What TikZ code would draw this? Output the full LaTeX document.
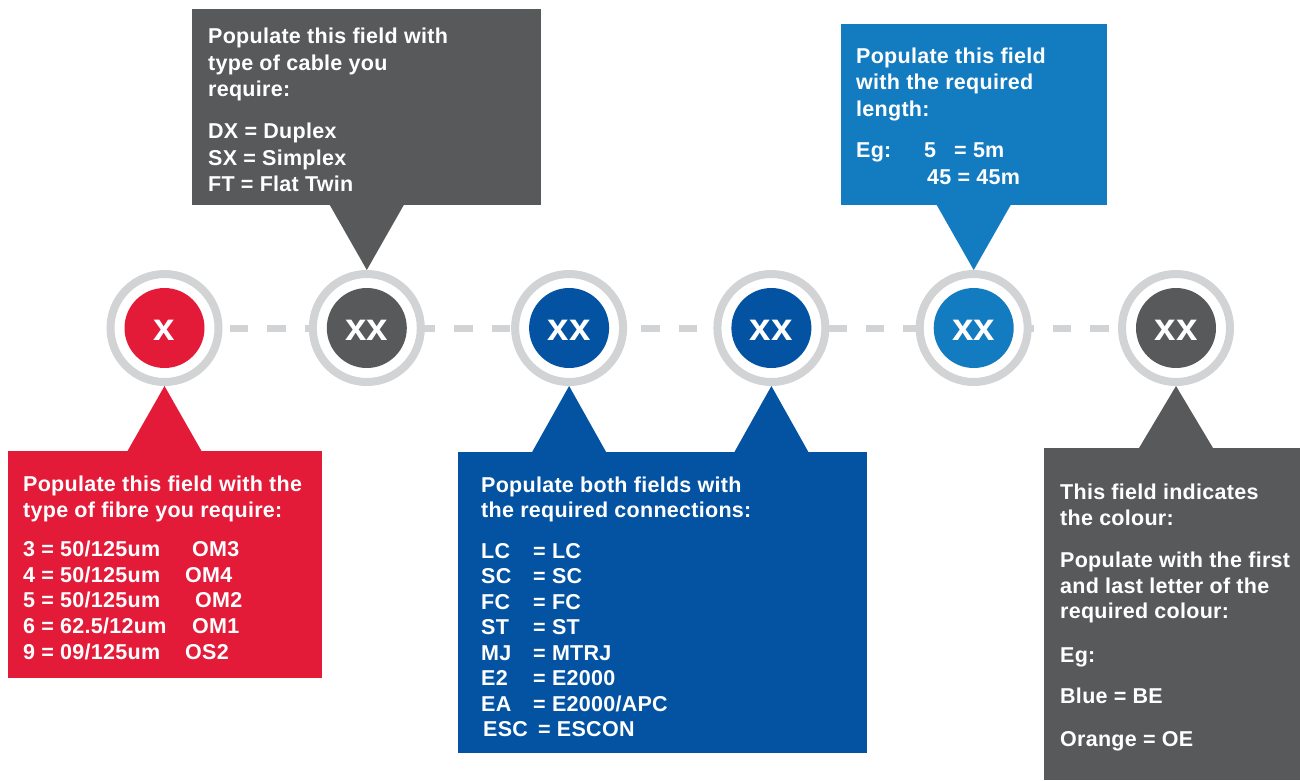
\documentclass[tikz,border=0pt]{standalone}
\usepackage{fontspec}
\setmainfont{Liberation Sans}
\newfontfamily\boxfont[LetterSpace=1.3]{Liberation Sans}
\usetikzlibrary{calc,backgrounds}
\definecolor{fred}{HTML}{E41A39}
\definecolor{fgray}{HTML}{58595B}
\definecolor{fblue}{HTML}{0453A3}
\definecolor{flight}{HTML}{137BC0}
\definecolor{ringgray}{HTML}{D1D3D4}
\begin{document}
\begin{tikzpicture}[x=1pt,y=-1pt,
  ring/.style={circle, draw=ringgray, line width=8pt, fill=white, minimum size=108pt, inner sep=0pt},
  disc/.style={circle, minimum size=80pt, inner sep=0pt, text=white,
    font=\fontsize{38.5}{38.5}\selectfont\bfseries, text height=24.9pt, text depth=0pt},
  dashline/.style={draw=ringgray, line width=7pt, dash pattern=on 18.4pt off 19pt, dash phase=29.9pt},
  callout/.style={anchor=north west, inner sep=0pt, outer sep=0pt},
  note/.style={anchor=north west, inner sep=0pt, text=white, align=left},
  notefont/.style={font=\boxfont\bfseries\fontsize{21.5}{#1}\selectfont}
]
\useasboundingbox (0,0) rectangle (1300,780);

% rings and discs
\node[ring] (c1) at (164.5,328) {};
\node[ring] (c2) at (366.8,328) {};
\node[ring] (c3) at (569.1,328) {};
\node[ring] (c4) at (771.4,328) {};
\node[ring] (c5) at (973.7,328) {};
\node[ring] (c6) at (1176,328) {};
\node[disc, fill=fred]   (d1) at (c1) {x};
\node[disc, fill=fgray]  (d2) at (c2) {xx};
\node[disc, fill=fblue]  (d3) at (c3) {xx};
\node[disc, fill=fblue]  (d4) at (c4) {xx};
\node[disc, fill=flight] (d5) at (c5) {xx};
\node[disc, fill=fgray]  (d6) at (c6) {xx};
\begin{scope}[on background layer]
  \draw[dashline] (c1) -- (c6);
\end{scope}

% callout boxes
\node[callout, fill=fred, minimum width=314pt, minimum height=227pt] (b1) at (8,451) {};
\fill[fred] ($(c1.south |- b1.north)+(-37,0)$) -- (c1.south) -- ($(c1.south |- b1.north)+(37,0)$) -- cycle;

\node[callout, fill=fgray, minimum width=349pt, minimum height=196pt] (b2) at (192,9) {};
\fill[fgray] ($(c2.north |- b2.south)+(-37,0)$) -- (c2.north) -- ($(c2.north |- b2.south)+(37,0)$) -- cycle;

\node[callout, fill=fblue, minimum width=409pt, minimum height=301pt] (b3) at (458,452) {};
\fill[fblue] ($(c3.south |- b3.north)+(-37,0)$) -- (c3.south) -- ($(c3.south |- b3.north)+(37,0)$) -- cycle;
\fill[fblue] ($(c4.south |- b3.north)+(-37,0)$) -- (c4.south) -- ($(c4.south |- b3.north)+(37,0)$) -- cycle;

\node[callout, fill=flight, minimum width=266pt, minimum height=181pt] (b4) at (841,24) {};
\fill[flight] ($(c5.north |- b4.south)+(-37,0)$) -- (c5.north) -- ($(c5.north |- b4.south)+(37,0)$) -- cycle;

\node[callout, fill=fgray, minimum width=256pt, minimum height=332pt] (b5) at (1044,448) {};
\fill[fgray] ($(c6.south |- b5.north)+(-37,0)$) -- (c6.south) -- ($(c6.south |- b5.north)+(37,0)$) -- cycle;

% texts
\node[note, notefont=26pt] (t1) at (23,475.3) {Populate this field with the\\
type of fibre you require:\\[13.4pt]
\makebox[169pt][l]{3 = 50/125um}OM3\\[-0.3pt]
\makebox[162pt][l]{4 = 50/125um}OM4\\[-0.3pt]
\makebox[172pt][l]{5 = 50/125um}OM2\\[-0.3pt]
\makebox[169pt][l]{6 = 62.5/12um}OM1\\[-0.3pt]
\makebox[162pt][l]{9 = 09/125um}OS2};

\node[note, notefont=26.4pt] (t2) at (208,27.9) {Populate this field with\\
type of cable you\\
require:\\[16pt]
DX = Duplex\\
SX = Simplex\\
FT = Flat Twin};

\node[note, notefont=25.5pt] (t3) at (481,476.3) {Populate both fields with\\
the required connections:\\[15pt]
\makebox[52pt][l]{LC}= LC\\
\makebox[52pt][l]{SC}= SC\\
\makebox[52pt][l]{FC}= FC\\
\makebox[52pt][l]{ST}= ST\\
\makebox[52pt][l]{MJ}= MTRJ\\
\makebox[52pt][l]{E2}= E2000\\
\makebox[52pt][l]{EA}= E2000/APC\\
\hspace*{2pt}\makebox[55pt][l]{ESC}= ESCON};

\node[note, notefont=26.5pt] (t4) at (856,47.3) {Populate this field\\
with the required\\
length:\\[15pt]
\makebox[68pt][l]{Eg:}\makebox[30pt][l]{5}= 5m\\
\hspace*{71pt}45 = 45m};

\node[note, notefont=25.8pt] (t5) at (1060,483.9) {This field indicates\\
the colour:\\[16pt]
Populate with the first\\
and last letter of the\\
required colour:\\[18pt]
Eg:\\[15pt]
Blue = BE\\[17pt]
Orange = OE};
\end{tikzpicture}
\end{document}
